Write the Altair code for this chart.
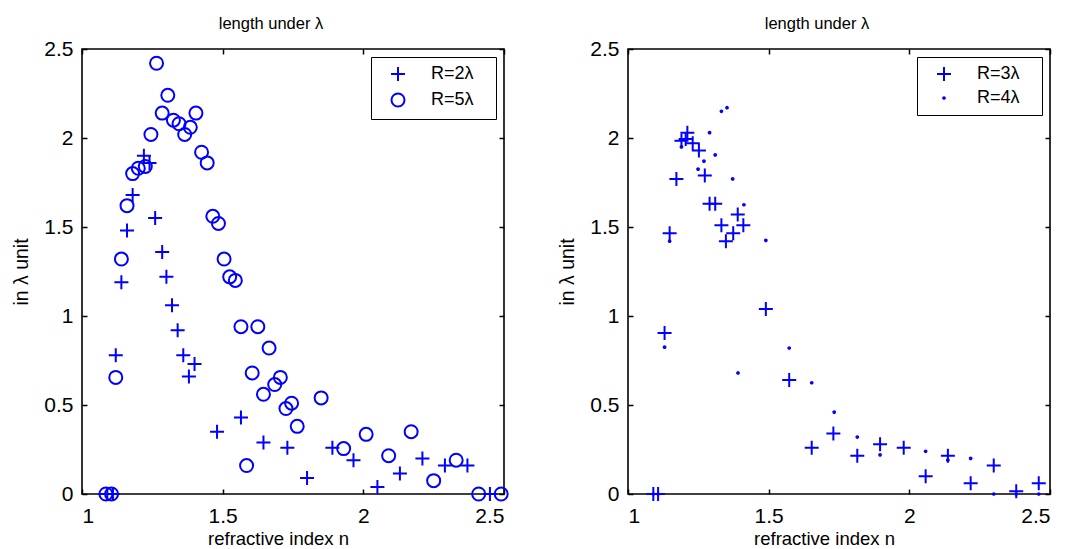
import altair as alt
import pandas as pd

# ---- Left panel data ----
n_r2 = [1.09, 1.11, 1.12, 1.14, 1.16, 1.18, 1.22, 1.24, 1.26, 1.285, 1.30, 1.32, 1.34, 1.36, 1.38, 1.40,
        1.48, 1.565, 1.645, 1.73, 1.80, 1.89, 1.965, 2.05, 2.13, 2.21, 2.29, 2.37, 2.45]
v_r2 = [0, 0, 0.78, 1.19, 1.48, 1.68, 1.90, 1.86, 1.55, 1.36, 1.22, 1.06, 0.92, 0.78, 0.66, 0.73,
        0.35, 0.43, 0.29, 0.26, 0.09, 0.26, 0.19, 0.04, 0.115, 0.20, 0.16, 0.16, 0]

n_r5 = [1.085, 1.105, 1.12, 1.14, 1.16, 1.18, 1.20, 1.225, 1.245, 1.265, 1.285, 1.305, 1.325, 1.345,
        1.365, 1.385, 1.405, 1.425, 1.445, 1.465, 1.485, 1.505, 1.525, 1.545, 1.565, 1.585, 1.605,
        1.625, 1.645, 1.665, 1.685, 1.705, 1.725, 1.745, 1.765, 1.85, 1.93, 2.01, 2.09, 2.17, 2.25,
        2.33, 2.41, 2.49]
v_r5 = [0, 0, 0.655, 1.32, 1.62, 1.80, 1.83, 1.84, 2.02, 2.42, 2.14, 2.24, 2.10, 2.08, 2.02, 2.06,
        2.14, 1.92, 1.86, 1.56, 1.52, 1.32, 1.22, 1.20, 0.94, 0.16, 0.68, 0.94, 0.56, 0.82, 0.615,
        0.655, 0.48, 0.51, 0.38, 0.54, 0.255, 0.335, 0.215, 0.35, 0.075, 0.19, 0, 0]

# ---- Right panel data ----
n_r3 = [1.09, 1.107, 1.13, 1.148, 1.172, 1.19, 1.205, 1.211, 1.23, 1.252, 1.273, 1.29, 1.31, 1.332,
        1.348, 1.374, 1.39, 1.41, 1.49, 1.573, 1.653, 1.73, 1.815, 1.896, 1.98, 2.058, 2.137, 2.218,
        2.30, 2.38, 2.46]
v_r3 = [0, 0, 0.905, 1.465, 1.77, 1.985, 1.995, 2.03, 1.97, 1.93, 1.79, 1.63, 1.63, 1.51, 1.42,
        1.465, 1.57, 1.51, 1.04, 0.64, 0.26, 0.34, 0.215, 0.28, 0.26, 0.10, 0.215, 0.06, 0.16,
        0.015, 0.06]

n_r4 = [1.09, 1.107, 1.13, 1.148, 1.19, 1.249, 1.27, 1.29, 1.31, 1.332, 1.352, 1.372, 1.391, 1.412,
        1.49, 1.573, 1.653, 1.733, 1.815, 1.896, 2.058, 2.137, 2.218, 2.30, 2.38, 2.46]
v_r4 = [0, 0, 0.825, 1.42, 1.95, 1.825, 1.87, 2.03, 1.905, 2.15, 2.17, 1.77, 0.68, 1.625, 1.425,
        0.82, 0.625, 0.46, 0.32, 0.22, 0.24, 0.19, 0.20, 0, 0, 0]

x_ticks = [1, 1.5, 2, 2.5]
y_ticks = [0, 0.5, 1, 1.5, 2, 2.5]
title_text = "length under λ"
x_title = "refractive index n"
y_title = "in λ unit"

PLUS = "M-1,0L1,0M0,-1L0,1"
FONT = "Liberation Sans"


def make_df(pairs):
    rows = []
    for label, ns, vs in pairs:
        for a, b in zip(ns, vs):
            rows.append({"n": a, "v": b, "series": label})
    return pd.DataFrame(rows)


def panel(df, labels, shapes, sizes):
    xs = alt.Scale(domain=[1, 2.5], nice=False, zero=False)
    ys = alt.Scale(domain=[0, 2.5], nice=False, zero=True)
    legend = alt.Legend(
        title=None, orient="top-right", offset=8, strokeColor="black", fillColor="white",
        padding=8, labelFont=FONT, labelFontSize=18, labelColor="black",
        symbolStrokeColor="blue", symbolStrokeWidth=2, symbolFillColor="transparent",
        rowPadding=4, labelOffset=24, symbolOffset=10,
        labelExpr="datum.label + '\u2002\u2005\u200b'",
    )
    pts = alt.Chart(df).mark_point(filled=False, color="blue", strokeWidth=2, opacity=1,
                                   clip=False).encode(
        x=alt.X("n:Q", scale=xs, axis=alt.Axis(
            values=x_ticks, format="~g", title=x_title, orient="bottom", offset=-5, tickSize=5,
            domain=False, grid=False, labelPadding=11, titleX=196, titleY=49,
            titleBaseline="middle", titleFontSize=18.5)),
        y=alt.Y("v:Q", scale=ys, axis=alt.Axis(
            values=y_ticks, format="~g", title=y_title, orient="left", offset=-5, tickSize=5,
            domain=False, grid=False, labelPadding=9, titleX=-66, titleBaseline="middle",
            titleFontSize=19.5)),
        shape=alt.Shape("series:N", scale=alt.Scale(domain=labels, range=shapes), legend=legend),
        size=alt.Size("series:N", scale=alt.Scale(domain=labels, range=sizes), legend=legend),
    )
    mirror = alt.Chart(df).mark_point(opacity=0).encode(
        x=alt.X("n:Q", scale=xs, axis=alt.Axis(
            values=x_ticks, orient="top", labels=False, title=None, offset=-5, tickSize=5,
            domain=False, grid=False)),
        y=alt.Y("v:Q", scale=ys, axis=alt.Axis(
            values=y_ticks, orient="right", labels=False, title=None, offset=-5, tickSize=5,
            domain=False, grid=False)),
    )
    return alt.layer(pts, mirror).resolve_axis(x="independent", y="independent").properties(
        width=422, height=445,
        title=alt.TitleParams(title_text, fontSize=16.5, fontWeight="normal", font=FONT,
                              color="black", offset=6, dx=-22, anchor="middle"),
    )


left_df = make_df([("R=2λ", n_r2, v_r2), ("R=5λ", n_r5, v_r5)])
right_df = make_df([("R=3λ", n_r3, v_r3), ("R=4λ", n_r4, v_r4)])

left = panel(left_df, ["R=2λ", "R=5λ"], [PLUS, "circle"], [196, 169])
right = panel(right_df, ["R=3λ", "R=4λ"], [PLUS, "circle"], [196, 3])

chart = alt.hconcat(left, right, spacing=124, bounds="flush").resolve_scale(
    shape="independent", size="independent"
).resolve_legend(
    shape="independent", size="independent"
).properties(
    padding={"left": 2, "top": 6, "right": 5, "bottom": 2},
    background="white",
).configure_view(
    stroke="black", strokeWidth=1.6
).configure_axis(
    labelFont=FONT, labelFontSize=21, labelColor="black", titleFont=FONT, titleColor="black",
    titleFontWeight="normal", tickColor="black", tickWidth=1.5,
)

chart.save("out.html", embed_options={"renderer": "svg", "actions": False})
